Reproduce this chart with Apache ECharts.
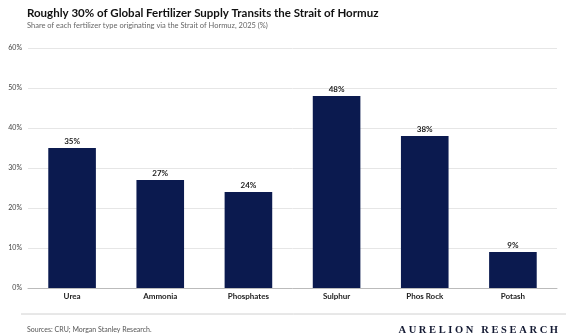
<!DOCTYPE html>
<html><head><meta charset="utf-8">
<script src="https://cdn.jsdelivr.net/npm/echarts@6/dist/echarts.min.js"></script>
<style>html,body{margin:0;padding:0;background:#fff}#c{width:568px;height:336px}</style>
</head><body><div id="c"></div>
<script>
const categories = ["Urea","Ammonia","Phosphates","Sulphur","Phos Rock","Potash"];
const shares = [35,27,24,48,38,9];
const yTicks = [0,10,20,30,40,50,60];

const chart = echarts.init(document.getElementById('c'), null, {renderer:'canvas'});
chart.setOption({
  animation:false,
  backgroundColor:'#fff',
  title:[
    {text:'Roughly 30% of Global Fertilizer Supply Transits the Strait of Hormuz', left:22, top:2,
     textStyle:{fontFamily:'Lato',fontWeight:'bold',fontSize:11.5,color:'#111'}},
    {text:'Share of each fertilizer type originating via the Strait of Hormuz, 2025 (%)', left:22, top:17,
     textStyle:{fontFamily:'Lato',fontWeight:'normal',fontSize:7.5,color:'#666'}},
    {text:'Sources: CRU; Morgan Stanley Research.', left:22, top:321,
     textStyle:{fontFamily:'Lato',fontWeight:'normal',fontSize:7,color:'#555'}},
    {text:'A U R E L I O N   R E S E A R C H', right:5, top:320,
     textStyle:{fontFamily:'Liberation Serif',fontWeight:'bold',fontSize:10.5,color:'#141a33'}}
  ],
  graphic:[
    {type:'line', shape:{x1:21,y1:314,x2:566,y2:314}, style:{stroke:'#d0d0d0',lineWidth:1}}
  ],
  grid:{left:28, right:11, top:48, bottom:48, containLabel:false},
  xAxis:{type:'category', data:categories,
    axisLine:{lineStyle:{color:'#bbb',width:1}}, axisTick:{show:false},
    axisLabel:{fontFamily:'Lato',fontSize:8,fontWeight:'bold',color:'#222',margin:4}},
  yAxis:{type:'value', min:yTicks[0], max:yTicks[yTicks.length-1], interval:10,
    axisLabel:{formatter:'{value}%', fontFamily:'Lato',fontSize:7,color:'#444',margin:6, align:'right'},
    splitLine:{lineStyle:{color:'#e6e6e6',width:1}}, axisLine:{show:false}, axisTick:{show:false}},
  series:[{type:'bar', data:shares, barWidth:'54%',
    itemStyle:{color:'#0b1a4f'},
    label:{show:true, position:'top', formatter:'{c}%', fontFamily:'Lato',fontSize:8,fontWeight:'bold',color:'#222',distance:3}}]
});
</script></body></html>
